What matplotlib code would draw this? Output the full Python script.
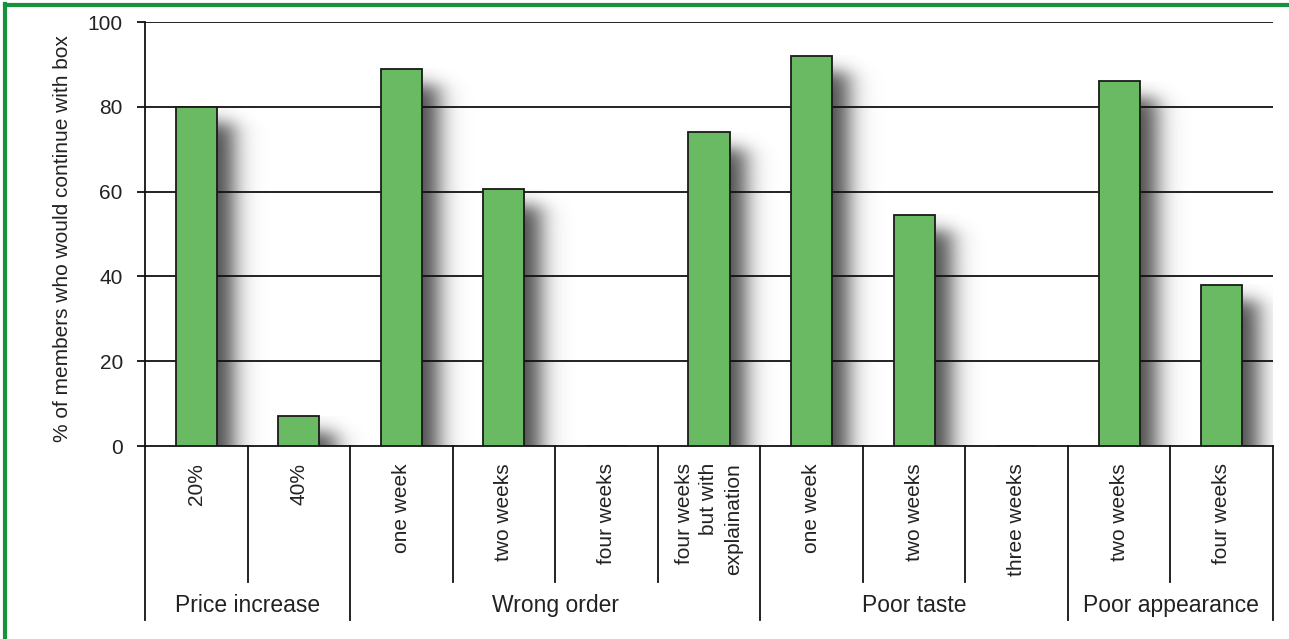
import numpy as np
import matplotlib
matplotlib.use('Agg')
import matplotlib.pyplot as plt
from matplotlib.lines import Line2D

plt.rcParams['font.family'] = ['Liberation Sans', 'DejaVu Sans']

# Dades
categories = ['20%', '40%', 'one week', 'two weeks', 'four weeks',
              'four weeks\nbut with\nexplaination', 'one week', 'two weeks',
              'three weeks', 'two weeks', 'four weeks']
values = [80, 7, 89, 60.5, 0, 74, 92, 54.5, 0, 86, 38]
groups = ['Price increase', 'Wrong order', 'Poor taste', 'Poor appearance']
group_sizes = [2, 4, 3, 2]
yticks = [0, 20, 40, 60, 80, 100]
ylabel = '% of members who would continue with box'

bar_color = '#6aba64'
text_color = '#222222'

fig = plt.figure(figsize=(12.89, 6.39), dpi=100)
ax = fig.add_axes([145/1289, 1 - 446/639, 1128/1289, 424/639])

n = len(categories)
x = np.arange(n) + 0.5
bw = 0.4

# Ombres difuminades a la dreta de cada barra
px_x = 1128 / n          # px per unitat x
px_y = 424 / 100         # px per unitat y
for xi, v in zip(x, values):
    if v <= 0:
        continue
    xl, xr = xi - bw/2, xi + bw/2
    x0, x1 = xl, xr + 70/px_x
    y0, y1 = 0, v
    gx = np.linspace(x0, x1, 160)
    gy = np.linspace(y1, y0, 220)
    sx = 14/px_x
    sy = 10/px_y
    right = xr + 16/px_x
    top = v - 16/px_y
    ax_ = 0.5*(1 - np.tanh((gx - right)/sx))
    ay_ = 0.5*(1 - np.tanh((gy - top)/sy))
    alpha = 0.72*np.outer(ay_, ax_)
    img = np.zeros((len(gy), len(gx), 4))
    img[..., 3] = alpha
    ax.imshow(img, extent=[x0, x1, y0, y1], aspect='auto', zorder=1,
              interpolation='bilinear')

# Línies de la graella
for t in yticks[1:]:
    ax.axhline(t, color='#111111', lw=1.3, zorder=2)

ax.bar(x, values, width=bw, color=bar_color, edgecolor='#1a1a1a',
       linewidth=1.3, zorder=3)

ax.set_xlim(0, n)
ax.set_ylim(0, 100)
ax.set_yticks(yticks)
ax.set_yticklabels([str(t) for t in yticks], fontsize=15, color=text_color)
ax.tick_params(axis='y', length=6, width=1.3, pad=10, color='#111111')
ax.set_xticks([])
for s in ['top', 'right']:
    ax.spines[s].set_visible(False)
for s in ['left', 'bottom']:
    ax.spines[s].set_linewidth(1.3)
    ax.spines[s].set_color('#111111')

ax.text(-0.073, 0.49, ylabel, transform=ax.transAxes, rotation=90,
        ha='center', va='center', fontsize=15, color=text_color)

trans = ax.get_xaxis_transform()

# Etiquetes de categoria
for xi, lab in zip(x, categories):
    ax.text(xi, -0.04, lab, transform=trans, rotation=90, ha='center',
            va='top', multialignment='right', fontsize=15, color=text_color,
            linespacing=1.35)

# Separadors i etiquetes de grup
bounds = np.concatenate([[0], np.cumsum(group_sizes)])
for b in range(n + 1):
    ybot = -0.41 if b in bounds else -0.321
    ax.add_line(Line2D([b, b], [0, ybot], transform=trans, color='#111111',
                       lw=1.3, clip_on=False))
for g, lab in enumerate(groups):
    xc = (bounds[g] + bounds[g+1]) / 2
    ax.text(xc, -0.377, lab, transform=trans, ha='center', va='center',
            fontsize=16.5, color=text_color)

# Marc verd (només visible a dalt i a l'esquerra)
fig.add_artist(Line2D([4.5/1289, 4.5/1289], [0, 1 - 4/639], color='#16913c', lw=3))
fig.add_artist(Line2D([4.5/1289, 1], [1 - 4.5/639, 1 - 4.5/639], color='#16913c', lw=3))

fig.savefig('out.png', dpi=100)
